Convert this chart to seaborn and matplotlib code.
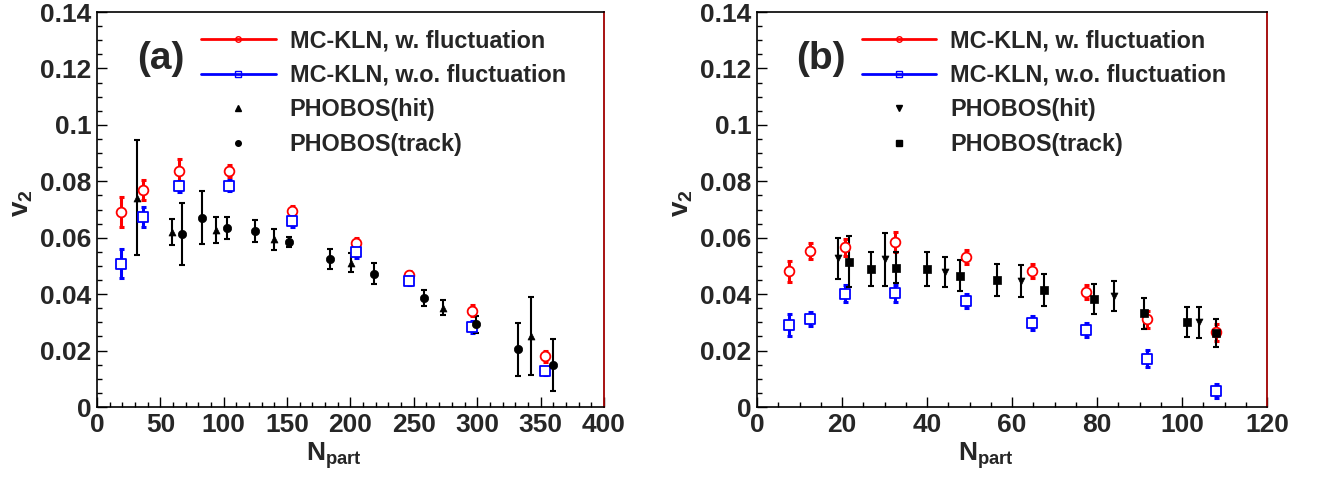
import matplotlib
matplotlib.use("Agg")
import matplotlib.pyplot as plt
import matplotlib.ticker as mticker
from matplotlib.lines import Line2D
import seaborn as sns
import pandas as pd

# ---- panel (a) data ----
a_mc_npart = [18.7, 36.5, 65.0, 104.4, 154.0, 204.6, 245.9, 296.0, 353.4]
a_fluc_v2 = [0.0691, 0.0769, 0.0838, 0.0837, 0.0696, 0.0583, 0.0467, 0.0341, 0.0180]
a_fluc_err = [0.0053, 0.0035, 0.0040, 0.0020, 0.0015, 0.0015, 0.0015, 0.0020, 0.0020]
a_nofluc_v2 = [0.0508, 0.0674, 0.0782, 0.0785, 0.0659, 0.0549, 0.0447, 0.0284, 0.0128]
a_nofluc_err = [0.0052, 0.0035, 0.0020, 0.0020, 0.0020, 0.0020, 0.0015, 0.0020, 0.0015]

a_hit_npart = [31.3, 59.4, 93.6, 139.4, 200.4, 273.2, 342.4]
a_hit_v2 = [0.0742, 0.0620, 0.0627, 0.0594, 0.0512, 0.0352, 0.0252]
a_hit_err = [0.0203, 0.0046, 0.0046, 0.0038, 0.0035, 0.0027, 0.0138]

a_trk_npart = [67.0, 83.1, 102.8, 124.7, 151.7, 183.6, 218.3, 258.2, 299.0, 331.9, 360.0]
a_trk_v2 = [0.0613, 0.0671, 0.0635, 0.0624, 0.0584, 0.0525, 0.0473, 0.0386, 0.0294, 0.0204, 0.0149]
a_trk_err = [0.0110, 0.0095, 0.0038, 0.0040, 0.0018, 0.0036, 0.0037, 0.0028, 0.0030, 0.0093, 0.0092]

# ---- panel (b) data ----
b_mc_npart = [7.5, 12.5, 20.6, 32.5, 49.1, 64.8, 77.3, 91.8, 108.1]
b_fluc_v2 = [0.0481, 0.0553, 0.0566, 0.0585, 0.0532, 0.0481, 0.0409, 0.0311, 0.0265]
b_fluc_err = [0.0038, 0.0028, 0.0030, 0.0035, 0.0025, 0.0025, 0.0025, 0.0030, 0.0030]
b_nofluc_v2 = [0.0291, 0.0311, 0.0402, 0.0403, 0.0377, 0.0298, 0.0272, 0.0171, 0.0057]
b_nofluc_err = [0.0038, 0.0025, 0.0030, 0.0030, 0.0025, 0.0025, 0.0025, 0.0030, 0.0025]

b_hit_npart = [19.1, 30.1, 44.2, 62.1, 84.1, 104.0]
b_hit_v2 = [0.0527, 0.0523, 0.0480, 0.0447, 0.0393, 0.0300]
b_hit_err = [0.0073, 0.0094, 0.0053, 0.0058, 0.0053, 0.0056]

b_trk_npart = [21.7, 26.7, 32.8, 39.9, 47.8, 56.4, 67.5, 79.3, 91.0, 101.1, 108.0]
b_trk_v2 = [0.0515, 0.0490, 0.0494, 0.0488, 0.0466, 0.0451, 0.0415, 0.0382, 0.0333, 0.0302, 0.0263]
b_trk_err = [0.0090, 0.0060, 0.0055, 0.0060, 0.0055, 0.0057, 0.0058, 0.0053, 0.0055, 0.0053, 0.0050]

legend_labels = ["MC-KLN, w. fluctuation", "MC-KLN, w.o. fluctuation", "PHOBOS(hit)", "PHOBOS(track)"]

sns.set_style("ticks")
plt.rcParams["font.family"] = ["Liberation Sans", "DejaVu Sans"]
plt.rcParams["font.weight"] = "bold"
plt.rcParams["mathtext.fontset"] = "custom"
plt.rcParams["mathtext.rm"] = "Liberation Sans:bold"
plt.rcParams["mathtext.it"] = "Liberation Sans:bold"
plt.rcParams["mathtext.bf"] = "Liberation Sans:bold"


def draw_series(ax, x, y, err, color, marker, ms, lw, cap, open_marker):
    df = pd.DataFrame({"x": x, "y": y})
    ax.errorbar(x, y, yerr=err, fmt="none", ecolor=color, elinewidth=lw,
                capsize=cap, capthick=lw, zorder=2)
    sns.scatterplot(data=df, x="x", y="y", ax=ax, marker=marker, s=ms ** 2,
                    facecolor="white" if open_marker else color,
                    edgecolor=color, linewidth=1.3 if open_marker else 0.5,
                    zorder=3, legend=False)


def style_axes(ax, xmax, xmajor, xminor, tag, xlab_x):
    ax.set_xlim(0, xmax)
    ax.set_ylim(0, 0.14)
    ax.xaxis.set_major_locator(mticker.MultipleLocator(xmajor))
    ax.xaxis.set_minor_locator(mticker.MultipleLocator(xminor))
    ax.yaxis.set_major_locator(mticker.MultipleLocator(0.02))
    ax.yaxis.set_minor_locator(mticker.MultipleLocator(0.005))
    ax.yaxis.set_major_formatter(mticker.FuncFormatter(lambda v, p: f"{v:g}"))
    ax.xaxis.set_major_formatter(mticker.FuncFormatter(lambda v, p: f"{v:g}"))
    ax.tick_params(which="both", direction="in", top=False, right=False,
                   labelsize=19, width=1, color="black")
    ax.tick_params(which="major", length=7.5, pad=4)
    ax.tick_params(which="minor", length=3.8)
    for lab in ax.get_xticklabels() + ax.get_yticklabels():
        lab.set_fontweight("bold")
    for side in ["left", "top", "bottom"]:
        ax.spines[side].set_visible(True)
        ax.spines[side].set_color("black")
        ax.spines[side].set_linewidth(1.2)
    ax.spines["right"].set_visible(True)
    ax.spines["right"].set_color("#a00000")
    ax.spines["right"].set_linewidth(1.3)
    ax.set_xlabel(r"$N_{part}$", fontsize=19, fontweight="bold")
    ax.set_ylabel(r"$v_{2}$", fontsize=20, fontweight="bold")
    ax.xaxis.set_label_coords(xlab_x, -0.085)
    ax.yaxis.set_label_coords(-0.122, 0.515)
    ax.text(0.125, 0.88, tag, transform=ax.transAxes, fontsize=28,
            fontweight="bold", ha="center", va="center")


def add_legend(ax, hit_marker, trk_marker):
    handles = [
        Line2D([], [], color="red", lw=2, marker="o", ms=4, mfc="none", mew=1),
        Line2D([], [], color="blue", lw=2, marker="s", ms=4, mfc="none", mew=1),
        Line2D([], [], ls="none", color="black", marker=hit_marker, ms=4),
        Line2D([], [], ls="none", color="black", marker=trk_marker, ms=4),
    ]
    ax.legend(handles, legend_labels, loc="upper left", bbox_to_anchor=(0.205, 0.957),
              frameon=False, borderpad=0, borderaxespad=0, handlelength=3.2,
              handletextpad=0.6, labelspacing=0.5,
              prop={"weight": "bold", "size": 16.8})


fig = plt.figure(figsize=(13.2, 4.79), dpi=100)
ax_a = fig.add_axes([0.0735, 0.1503, 0.384, 0.8246])
ax_b = fig.add_axes([0.5735, 0.1503, 0.3864, 0.8246])

draw_series(ax_a, a_mc_npart, a_fluc_v2, a_fluc_err, "red", "o", 7, 2.2, 1.8, True)
draw_series(ax_a, a_mc_npart, a_nofluc_v2, a_nofluc_err, "blue", "s", 6.5, 2.2, 1.8, True)
draw_series(ax_a, a_hit_npart, a_hit_v2, a_hit_err, "black", "^", 5, 1.5, 2.2, False)
draw_series(ax_a, a_trk_npart, a_trk_v2, a_trk_err, "black", "o", 6, 1.5, 2.2, False)
style_axes(ax_a, 400, 50, 10, "(a)", 0.468)
add_legend(ax_a, "^", "o")

draw_series(ax_b, b_mc_npart, b_fluc_v2, b_fluc_err, "red", "o", 7, 2.2, 1.8, True)
draw_series(ax_b, b_mc_npart, b_nofluc_v2, b_nofluc_err, "blue", "s", 6.5, 2.2, 1.8, True)
draw_series(ax_b, b_hit_npart, b_hit_v2, b_hit_err, "black", "v", 5, 1.5, 2.2, False)
draw_series(ax_b, b_trk_npart, b_trk_v2, b_trk_err, "black", "s", 5.5, 1.5, 2.2, False)
style_axes(ax_b, 120, 20, 5, "(b)", 0.448)
add_legend(ax_b, "v", "s")

fig.savefig("out.png", dpi=100)
